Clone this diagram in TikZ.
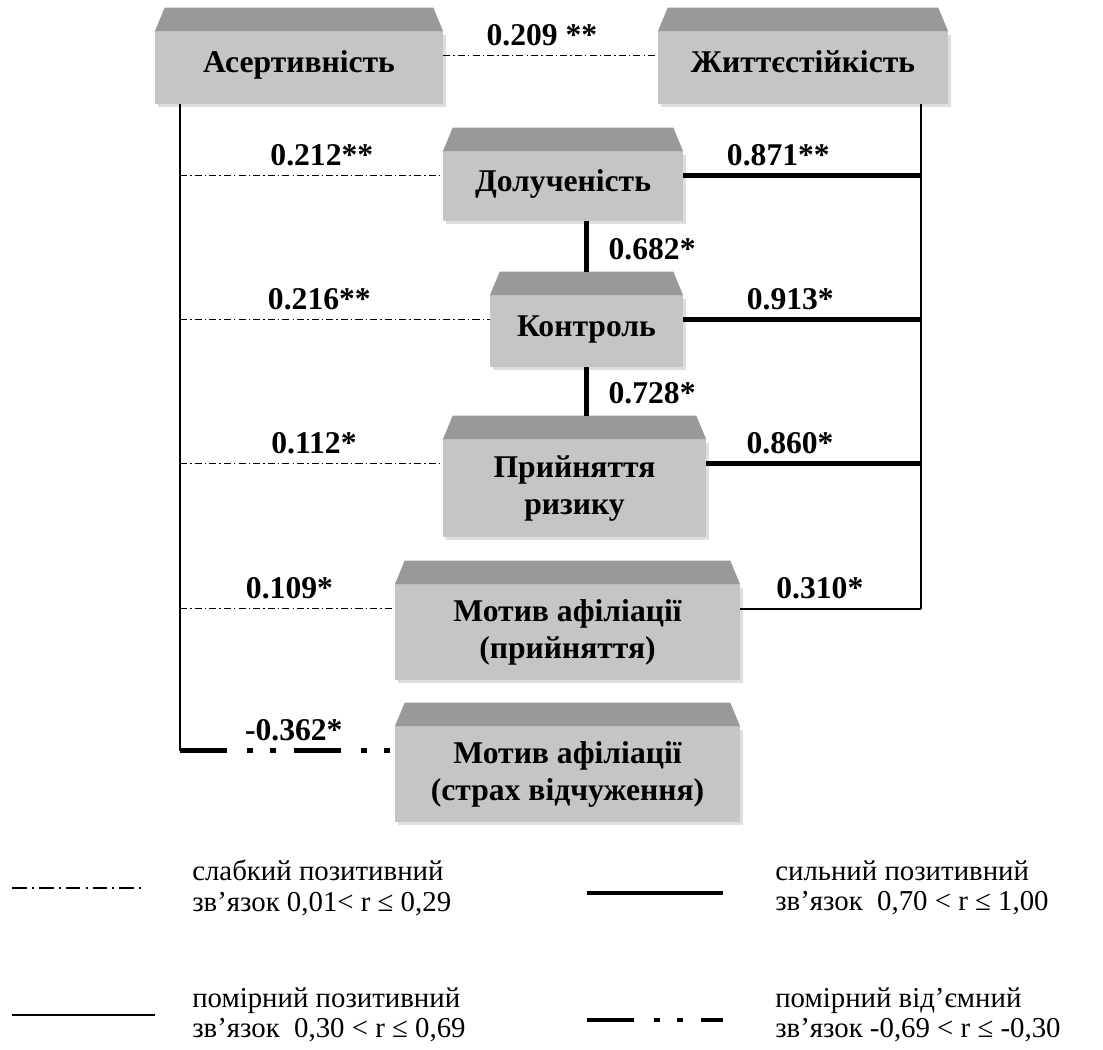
\documentclass[tikz,border=0pt]{standalone}
\usepackage{fontspec}
\setmainfont{Liberation Serif}
\usepackage{tikz}
\usetikzlibrary{calc,backgrounds}
\definecolor{boxface}{RGB}{197,197,197}
\definecolor{boxtop}{RGB}{153,153,153}
\definecolor{boxshade}{RGB}{222,222,222}

\begin{document}
\begin{tikzpicture}[
  x=0.025cm, y=-0.025cm,
  every node/.style = {font=\fontsize{22.5}{26.5}\selectfont\bfseries},
  %% box styles
  fbox/.style   = {rectangle, fill=boxface, align=center, inner sep=0pt},
  onebox/.style = {fbox, text height=0.68em, text depth=0pt},
  %% label styles
  lbl/.style    = {anchor=base, yshift=7pt, inner sep=0pt},
  lblv/.style   = {anchor=base west, xshift=14pt, inner sep=0pt},
  legtxt/.style = {anchor=west, align=left, inner sep=0pt,
                   font=\fontsize{20.5}{21.5}\selectfont},
  %% line styles
  weak/.style   = {line width=1pt,
                   dash pattern=on 5pt off 2.2pt on 1pt off 2.2pt},
  weaklg/.style = {line width=1pt,
                   dash pattern=on 10.5pt off 3.6pt on 1.4pt off 3.6pt},
  mid/.style    = {line width=1.2pt},
  strong/.style = {line width=3.4pt},
  neg/.style    = {line width=3.4pt,
                   dash pattern=on 33.4pt off 14.2pt on 4.3pt off 12.1pt
                                on 4.3pt off 12.8pt}
]
\useasboundingbox (0,0) rectangle (1103,1050);

%% ---- Boxes ----
\node[onebox, minimum width=7.2cm,   minimum height=1.8cm]   (ASR)  at (299,68)
  {Асертивність};
\node[onebox, minimum width=7.25cm,  minimum height=1.8cm]   (ZHT)  at (803,68)
  {Життєстійкість};
\node[onebox, minimum width=6cm,     minimum height=1.725cm] (DOL)  at (563,186.5)
  {Долученість};
\node[onebox, minimum width=4.825cm, minimum height=1.775cm] (KON)  at (586.5,331.5)
  {Контроль};
\node[fbox, minimum width=6.575cm, minimum height=2.425cm] (PRI)  at (574.5,488.5)
  {Прийняття\\ризику};
\node[fbox, minimum width=8.625cm, minimum height=2.375cm] (MOTA) at (567.5,632.5)
  {Мотив афіліації\\(прийняття)};
\node[fbox, minimum width=8.625cm, minimum height=2.375cm] (MOTB) at (567.5,774.5)
  {Мотив афіліації\\(страх відчуження)};

%% ---- Bevels, shadows and link points ----
\foreach \n in {ASR,ZHT,DOL,KON,PRI,MOTA,MOTB} {
  \fill[boxtop] (\n.north west) -- ++(10,-24)
    -- ($(\n.north east)+(-10,-24)$) -- (\n.north east) -- cycle;
  \begin{scope}[on background layer]
    \fill[boxshade] ($(\n.south west)+(3,3)$) rectangle ($(\n.north east)+(3,3)$);
  \end{scope}
  \path ($(\n.north west)+(0,24)$) coordinate (w\n)
        ($(\n.north east)+(0,24)$) coordinate (e\n)
        ($(\n.north)+(0,-24)$)     coordinate (t\n);
}

\coordinate (LT) at (180,104);
\coordinate (RT) at (921,104);
\coordinate (LB) at (wMOTB -| LT);
\coordinate (RB) at (eMOTA -| RT);

%% ---- Links ----
\draw[weak] (eASR) -- (wZHT) node[lbl, pos=0.46] {0.209 **};

\foreach \n/\txt/\p in {DOL/0.212**/0.54, KON/0.216**/0.45,
                        PRI/0.112*/0.51, MOTA/0.109*/0.51}
  \draw[weak] (w\n -| LT) -- (w\n) node[lbl, pos=\p] {\txt};

\foreach \n/\txt/\p in {DOL/0.871**/0.40, KON/0.913*/0.45, PRI/0.860*/0.39}
  \draw[strong] (e\n) -- (e\n -| RT) node[lbl, pos=\p] {\txt};

\draw[strong] (tKON |- DOL.south) -- (tKON) node[lblv, pos=0.75] {0.682*};
\draw[strong] (KON.south) -- (KON.south |- tPRI) node[lblv, pos=0.74] {0.728*};

\draw[mid] (eMOTA) -- (RB) node[lbl, pos=0.44] {0.310*};
\draw[mid] (RB) -- (RT);
\draw[mid] (LT) -- (LB);
\draw[neg] (LB) -- (wMOTB) node[lbl, pos=0.53] {-0.362*};

%% ---- Legend ----
\coordinate (K1a) at (12,888);   \coordinate (K1b) at (145,888);
\coordinate (K2a) at (12,1015);  \coordinate (K2b) at (155,1015);
\coordinate (K3a) at (587,893);  \coordinate (K3b) at (723,893);
\coordinate (K4a) at (587,1020); \coordinate (K4b) at (723,1020);
\draw[weaklg] (K1a) -- (K1b);
\draw[mid]    (K2a) -- (K2b);
\draw[strong] (K3a) -- (K3b);
\draw[neg]    (K4a) -- (K4b);

\node[legtxt] (T1) at (192,888)  {слабкий позитивний\\зв’язок 0,01< r ≤ 0,29};
\node[legtxt] (T2) at (192,1015) {помірний позитивний\\зв’язок~ 0,30 < r ≤ 0,69};
\node[legtxt] (T3) at (775,888)  {сильний позитивний\\зв’язок~ 0,70 < r ≤ 1,00};
\node[legtxt] (T4) at (775,1015) {помірний від’ємний\\зв’язок -0,69 < r ≤ -0,30};

\end{tikzpicture}
\end{document}
